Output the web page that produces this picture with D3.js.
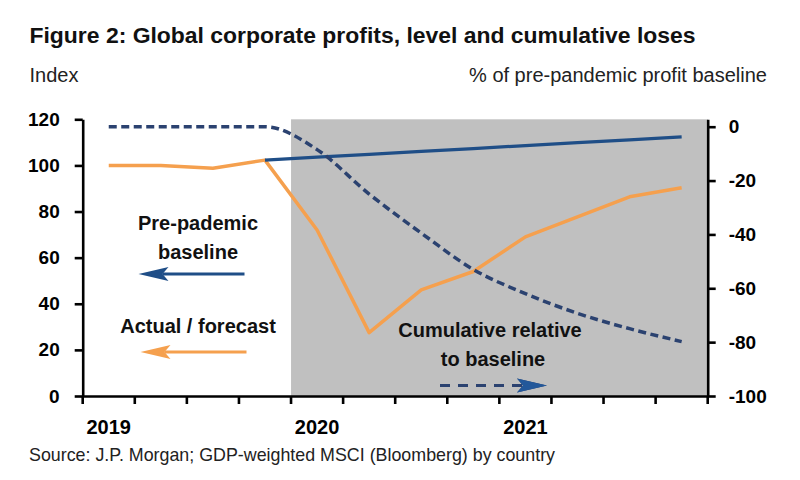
<!DOCTYPE html>
<html>
<head>
<meta charset="utf-8">
<script src="https://cdn.jsdelivr.net/npm/d3@7"></script>
<style>
  html, body { margin: 0; padding: 0; background: #fff; }
  svg { display: block; font-family: "Liberation Sans", Arial, sans-serif; }
</style>
</head>
<body>
<svg id="chart" width="800" height="480"></svg>
<script>
// ---- data ----
const quarters = ["2019Q1","2019Q2","2019Q3","2019Q4","2020Q1","2020Q2","2020Q3","2020Q4","2021Q1","2021Q2","2021Q3","2021Q4"];
const actualForecast = [100, 100, 98.8, 102.3, 72, 27.5, 46, 54, 69, 77.7, 86.4, 90.3];
const prePandemicBaseline = [null, null, null, 102.3, 103.6, 104.8, 106.1, 107.3, 108.6, 109.9, 111.1, 112.4];
const cumulativeRelative = [0, 0, 0, 0, -8.5, -25, -39.5, -53, -62, -69.3, -75, -79.8];
const leftTicks = [0, 20, 40, 60, 80, 100, 120];
const rightTicks = [0, -20, -40, -60, -80, -100];
const yearLabels = {"2019Q1": "2019", "2020Q1": "2020", "2021Q1": "2021"};
const shadedFrom = "2020Q1";

// ---- layout ----
const W = 800, H = 480;
const plot = { left: 82.7, right: 707.7, top: 119.3, bottom: 396 };
const colors = { orange: "#F5A04E", blue: "#1F4E87", navy: "#2B4270", grey: "#C0C0C0", axis: "#000" };

const svg = d3.select("#chart");

const x = d3.scaleBand().domain(quarters).range([plot.left, plot.right]).padding(0);
const xc = q => x(q) + x.bandwidth() / 2;
const yL = d3.scaleLinear().domain([0, 120]).range([plot.bottom, plot.top]);
const yR = d3.scaleLinear().domain([-100, 2.75]).range([plot.bottom, plot.top]);

// shaded region
svg.append("rect")
  .attr("x", x(shadedFrom)).attr("y", plot.top)
  .attr("width", plot.right - x(shadedFrom)).attr("height", plot.bottom - plot.top)
  .attr("fill", colors.grey);

// lines
const lineL = d3.line().defined(d => d.v !== null).x(d => xc(d.q)).y(d => yL(d.v));
const lineR = d3.line().x(d => xc(d.q)).y(d => yR(d.v)).curve(d3.curveMonotoneX);

svg.append("path")
  .datum(quarters.map((q, i) => ({ q, v: actualForecast[i] })))
  .attr("d", lineL).attr("fill", "none").attr("stroke", colors.orange)
  .attr("stroke-width", 3.5).attr("stroke-linejoin", "round");

svg.append("path")
  .datum(quarters.map((q, i) => ({ q, v: prePandemicBaseline[i] })))
  .attr("d", lineL).attr("fill", "none").attr("stroke", colors.blue)
  .attr("stroke-width", 3.2).attr("stroke-linejoin", "round");

svg.append("path")
  .datum(quarters.map((q, i) => ({ q, v: cumulativeRelative[i] })))
  .attr("d", lineR).attr("fill", "none").attr("stroke", colors.navy)
  .attr("stroke-width", 3.5).attr("stroke-dasharray", "8,4.5");

// axes
const tickFont = g => g.selectAll("text")
  .attr("font-family", "'Liberation Sans', Arial, sans-serif")
  .attr("font-size", 19).attr("font-weight", "bold").attr("fill", "#000");
const styleAxis = g => {
  g.select(".domain").attr("stroke", colors.axis).attr("stroke-width", 2.6);
  g.selectAll(".tick line").attr("stroke", colors.axis).attr("stroke-width", 2.6);
};

svg.append("g").attr("transform", `translate(${plot.left},0)`)
  .call(d3.axisLeft(yL).tickValues(leftTicks).tickFormat(d => String(d)).tickSize(8).tickSizeOuter(0).tickPadding(15))
  .call(styleAxis).call(tickFont);

svg.append("g").attr("transform", `translate(${plot.right},0)`)
  .call(d3.axisRight(yR).tickValues(rightTicks).tickFormat(d => String(d)).tickSize(8).tickSizeOuter(0).tickPadding(13))
  .call(styleAxis).call(tickFont);

// x axis: labels centered on Q1 bands, tick marks at band boundaries
const gx = svg.append("g").attr("transform", `translate(0,${plot.bottom})`)
  .call(d3.axisBottom(x).tickSize(0).tickSizeOuter(0).tickFormat(q => yearLabels[q] || ""))
  .call(styleAxis).call(tickFont);
gx.selectAll(".tick text").attr("font-size", 20).attr("y", 38).attr("dy", 0);
const boundaries = quarters.map(q => x(q)).concat([x.range()[1]]);
gx.selectAll("line.qtick").data(boundaries).enter().append("line")
  .attr("class", "qtick")
  .attr("x1", d => d).attr("x2", d => d).attr("y1", 0).attr("y2", 8)
  .attr("stroke", colors.axis).attr("stroke-width", 2.6);

// titles
svg.append("text").attr("x", 29.5).attr("y", 43).attr("font-size", 22).attr("font-weight", "bold")
  .attr("fill", "#111").attr("textLength", 666).attr("lengthAdjust", "spacingAndGlyphs")
  .text("Figure 2: Global corporate profits, level and cumulative loses");
svg.append("text").attr("x", 29.5).attr("y", 81.5).attr("font-size", 20).attr("fill", "#222")
  .text("Index");
svg.append("text").attr("x", 767).attr("y", 81.5).attr("font-size", 20).attr("fill", "#222")
  .attr("text-anchor", "end").text("% of pre-pandemic profit baseline");
svg.append("text").attr("x", 29).attr("y", 461).attr("font-size", 19).attr("fill", "#222")
  .attr("textLength", 526).attr("lengthAdjust", "spacingAndGlyphs")
  .text("Source: J.P. Morgan; GDP-weighted MSCI (Bloomberg) by country");

// annotations
const ann = (txt, cx, by) => svg.append("text").attr("x", cx).attr("y", by)
  .attr("text-anchor", "middle").attr("font-size", 20).attr("font-weight", "bold")
  .attr("fill", "#111").text(txt);
ann("Pre-pademic", 198, 229.5);
ann("baseline", 198, 258.5);
ann("Actual / forecast", 198, 332.5);
ann("Cumulative relative", 490, 337);
ann("to baseline", 493, 366);

function arrow(x0, x1, y, color, dir, dash) {
  // x0: tail end, x1: tip
  const hl = 30 * dir, hw = 7, notch = 6 * dir;
  svg.append("line").attr("x1", x0).attr("x2", x1 - hl + notch).attr("y1", y).attr("y2", y)
    .attr("stroke", color).attr("stroke-width", 3).attr("stroke-dasharray", dash || null);
  svg.append("path")
    .attr("d", `M${x1},${y} L${x1 - hl},${y - hw} L${x1 - hl + notch},${y} L${x1 - hl},${y + hw} Z`)
    .attr("fill", color);
}
arrow(244.5, 138.5, 274, colors.blue, -1);
arrow(246.5, 140.5, 352, colors.orange, -1);
arrow(440, 547, 385.5, "#2B4270", 1, "10,8");
svg.append("path")
  .attr("d", `M547,385.5 L517,378.5 L523,385.5 L517,392.5 Z`).attr("fill", "#23589A");
</script>
</body>
</html>
